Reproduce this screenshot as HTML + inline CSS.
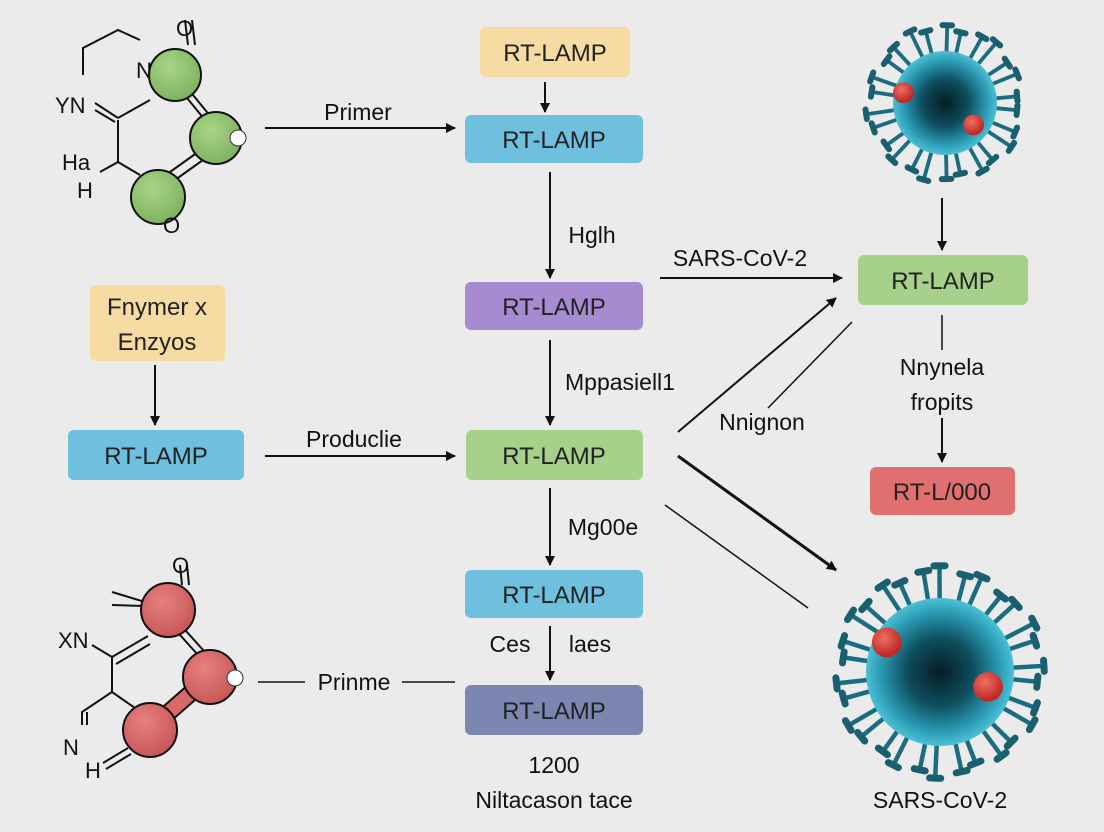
<!DOCTYPE html>
<html><head><meta charset="utf-8"><style>
html,body{margin:0;padding:0;background:#ebebeb;}
svg{display:block;font-family:"Liberation Sans",sans-serif;}
</style></head><body>
<svg id="s" width="1104" height="832" viewBox="0 0 1104 832" xmlns="http://www.w3.org/2000/svg">
<defs>
<marker id="a" markerWidth="10" markerHeight="10" refX="9" refY="5" orient="auto" markerUnits="userSpaceOnUse"><path d="M0,0 L10,5 L0,10 Z" fill="#111"/></marker>
<radialGradient id="vg" cx="50%" cy="50%" r="50%"><stop offset="0" stop-color="#061e26"/><stop offset="0.45" stop-color="#0e4e5e"/><stop offset="0.8" stop-color="#2a9ab3"/><stop offset="1" stop-color="#4cc0d6"/></radialGradient>
<radialGradient id="gr" cx="40%" cy="35%" r="65%"><stop offset="0" stop-color="#a8d488"/><stop offset="1" stop-color="#7fb35e"/></radialGradient>
<radialGradient id="rr" cx="40%" cy="35%" r="65%"><stop offset="0" stop-color="#e88080"/><stop offset="1" stop-color="#c85858"/></radialGradient>
<radialGradient id="rd" cx="40%" cy="35%" r="60%"><stop offset="0" stop-color="#f07060"/><stop offset="1" stop-color="#c02828"/></radialGradient>
</defs>
<rect width="1104" height="832" fill="#ebebeb"/>

<g font-size="24" text-anchor="middle" fill="#222">
<rect x="480" y="27" width="150" height="50" rx="6" fill="#f6dba2"/><text x="555" y="61">RT-LAMP</text>
<rect x="465" y="115" width="178" height="48" rx="6" fill="#6fc0df"/><text x="554" y="148">RT-LAMP</text>
<rect x="465" y="282" width="178" height="48" rx="6" fill="#a78bd0"/><text x="554" y="315">RT-LAMP</text>
<rect x="466" y="430" width="177" height="50" rx="6" fill="#a7d18b"/><text x="554" y="464">RT-LAMP</text>
<rect x="465" y="570" width="178" height="48" rx="6" fill="#6fc0df"/><text x="554" y="603">RT-LAMP</text>
<rect x="465" y="685" width="178" height="50" rx="6" fill="#7b87b0"/><text x="554" y="719">RT-LAMP</text>
<rect x="90" y="285" width="135" height="76" rx="6" fill="#f6dba2"/><text x="157" y="315">Fnymer x</text><text x="157" y="350">Enzyos</text>
<rect x="68" y="430" width="176" height="50" rx="6" fill="#6fc0df"/><text x="156" y="464">RT-LAMP</text>
<rect x="858" y="255" width="170" height="50" rx="6" fill="#a7d18b"/><text x="943" y="289">RT-LAMP</text>
<rect x="870" y="467" width="145" height="48" rx="6" fill="#e07070"/><text x="942" y="500">RT-L/000</text>
</g>

<g stroke="#111" stroke-width="2" fill="none" marker-end="url(#a)">
<line x1="545" y1="82" x2="545" y2="112"/>
<line x1="550" y1="172" x2="550" y2="278"/>
<line x1="550" y1="340" x2="550" y2="425"/>
<line x1="550" y1="488" x2="550" y2="565"/>
<line x1="550" y1="626" x2="550" y2="680"/>
<line x1="265" y1="128" x2="455" y2="128"/>
<line x1="265" y1="456" x2="455" y2="456"/>
<line x1="660" y1="278" x2="842" y2="278"/>
<line x1="678" y1="432" x2="836" y2="298"/>
<line x1="678" y1="456" x2="836" y2="570" stroke-width="3"/>
<line x1="155" y1="365" x2="155" y2="425"/>
<line x1="942" y1="198" x2="942" y2="250"/>
<line x1="942" y1="418" x2="942" y2="462"/>
</g>
<g stroke="#111" stroke-width="1.5">
<line x1="768" y1="408" x2="852" y2="322"/>
<line x1="665" y1="505" x2="808" y2="608"/>
<line x1="942" y1="315" x2="942" y2="350"/>
<line x1="258" y1="682" x2="305" y2="682"/>
<line x1="402" y1="682" x2="455" y2="682"/>
</g>

<g font-size="23" fill="#111" text-anchor="middle">
<text x="358" y="120">Primer</text>
<text x="354" y="447">Produclie</text>
<text x="354" y="690">Prinme</text>
<text x="592" y="243">Hglh</text>
<text x="620" y="390">Mppasiell1</text>
<text x="603" y="535">Mg00e</text>
<text x="510" y="652">Ces</text>
<text x="590" y="652">laes</text>
<text x="554" y="773">1200</text>
<text x="554" y="808">Niltacason tace</text>
<text x="740" y="266">SARS-CoV-2</text>
<text x="762" y="430">Nnignon</text>
<text x="942" y="375">Nnynela</text>
<text x="942" y="410">fropits</text>
</g>

<g stroke="#111" stroke-width="2" fill="none">
<polyline points="83,75 83,48 118,30 140,40"/>
<line x1="95" y1="103" x2="118" y2="118"/><line x1="95" y1="110" x2="115" y2="122"/>
<line x1="118" y1="118" x2="150" y2="100"/>
<polyline points="118,120 118,162 100,172"/>
<line x1="118" y1="162" x2="140" y2="175"/>
<line x1="185" y1="20" x2="188" y2="45"/><line x1="192" y1="20" x2="195" y2="45"/>
<line x1="187" y1="98" x2="205" y2="120"/><line x1="193" y1="95" x2="211" y2="117"/>
<line x1="170" y1="172" x2="198" y2="152"/><line x1="175" y1="180" x2="203" y2="160"/>
</g>
<g stroke="#111" stroke-width="2" fill="url(#gr)">
<circle cx="175" cy="75" r="26"/><circle cx="216" cy="138" r="26"/><circle cx="158" cy="197" r="27"/>
</g>
<g font-size="22" fill="#111">
<text x="176" y="36">O</text><text x="136" y="78">N</text><text x="55" y="113">YN</text>
<text x="62" y="170">Ha</text><text x="77" y="198">H</text><text x="163" y="233">O</text>
</g>
<circle cx="238" cy="138" r="8" fill="#fff" stroke="#333"/>

<g stroke="#111" stroke-width="2" fill="none">
<line x1="112" y1="592" x2="145" y2="602"/><line x1="112" y1="605" x2="145" y2="606"/>
<line x1="180" y1="565" x2="182" y2="585"/><line x1="187" y1="565" x2="189" y2="585"/>
<line x1="92" y1="645" x2="112" y2="657"/>
<line x1="112" y1="657" x2="148" y2="636"/><line x1="116" y1="664" x2="150" y2="644"/>
<polyline points="112,657 112,692 82,712 82,725"/><line x1="87" y1="712" x2="87" y2="725"/>
<line x1="112" y1="692" x2="135" y2="708"/>
<line x1="103" y1="763" x2="128" y2="748"/><line x1="106" y1="769" x2="131" y2="754"/>
<line x1="180" y1="635" x2="198" y2="655"/><line x1="186" y1="631" x2="204" y2="651"/>
</g>
<line x1="160" y1="720" x2="200" y2="685" stroke="#111" stroke-width="18"/>
<line x1="160" y1="720" x2="200" y2="685" stroke="#d96868" stroke-width="14"/>
<g stroke="#111" stroke-width="2" fill="url(#rr)">
<circle cx="168" cy="610" r="27"/><circle cx="210" cy="677" r="27"/><circle cx="150" cy="730" r="27"/>
</g>
<g font-size="22" fill="#111">
<text x="172" y="573">O</text><text x="58" y="648">XN</text><text x="63" y="755">N</text><text x="85" y="778">H</text>
</g>
<circle cx="235" cy="678" r="8" fill="#fff" stroke="#333"/>

<g id="v1"></g><g id="v2"></g>
<text x="940" y="808" font-size="23" fill="#111" text-anchor="middle">SARS-CoV-2</text>
</svg>
<script>
function virus(id,cx,cy,r,L,n,reds){
 var g=document.getElementById(id),h="";
 for(var i=0;i<n;i++){var t=i/n*Math.PI*2+0.1+(i%2)*0.05;
  var ll=L*(0.85+0.3*((i*7)%5)/4);
  var x1=cx+Math.cos(t)*r*0.85,y1=cy+Math.sin(t)*r*0.85,x2=cx+Math.cos(t)*(r+ll),y2=cy+Math.sin(t)*(r+ll);
  var px=-Math.sin(t)*L*0.2,py=Math.cos(t)*L*0.2;
  h+='<line x1="'+x1+'" y1="'+y1+'" x2="'+x2+'" y2="'+y2+'" stroke="#1a6d80" stroke-width="'+(L*0.16)+'"/>';
  h+='<line x1="'+(x2-px)+'" y1="'+(y2-py)+'" x2="'+(x2+px)+'" y2="'+(y2+py)+'" stroke="#1a5f70" stroke-width="'+(L*0.25)+'" stroke-linecap="round"/>';}
 h+='<circle cx="'+cx+'" cy="'+cy+'" r="'+r+'" fill="url(#vg)"/>';
 reds.forEach(function(p){h+='<circle cx="'+(cx+p[0]*r)+'" cy="'+(cy+p[1]*r)+'" r="'+(r*0.2)+'" fill="url(#rd)"/>';});
 g.innerHTML=h;}
virus("v1",945,103,52,24,26,[[-0.8,-0.2],[0.55,0.42]]);
virus("v2",940,672,74,28,30,[[-0.72,-0.4],[0.65,0.2]]);
</script>
</body></html>
